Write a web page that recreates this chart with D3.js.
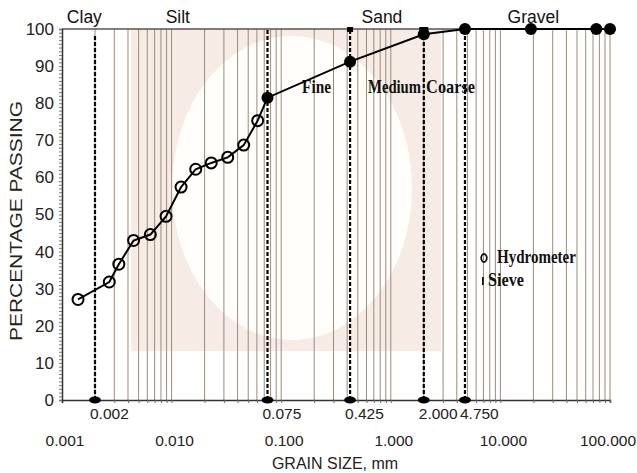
<!DOCTYPE html>
<html>
<head>
<meta charset="utf-8">
<script src="https://cdn.jsdelivr.net/npm/d3@7"></script>
<style>
  body { margin: 0; background: #fff; }
  svg { display: block; }
</style>
</head>
<body>
<div id="chart-container"></div>
<script>
// grain size (mm) and percentage passing
const hydroSize = [0.0014, 0.0027, 0.0033, 0.0045, 0.0064, 0.0089, 0.0122, 0.0166, 0.023, 0.0325, 0.0455, 0.061];
const hydroPass = [27.1, 31.8, 36.6, 43.0, 44.6, 49.5, 57.4, 62.2, 63.9, 65.4, 68.7, 75.3];
const sieveSize = [0.075, 0.425, 2.0, 4.75, 19, 75, 100];
const sievePass = [81.5, 91.2, 98.6, 100, 100, 100, 100];

// class boundaries drawn as dashed lines
const boundarySizes = [0.002, 0.075, 0.425, 2.0, 4.75];
const boundaryLabels = ["0.002", "0.075", "0.425", "2.000", "4.750"];

const decadeTicks = [0.001, 0.01, 0.1, 1, 10, 100];
const decadeLabels = ["0.001", "0.010", "0.100", "1.000", "10.000", "100.000"];

const soilClasses = ["Clay", "Silt", "Sand", "Gravel"];
const soilClassAt = [0.0016, 0.0114, 0.83, 20];
const sandClasses = ["Fine", "Medium", "Coarse"];
const sandClassAt = [0.155, 0.62, 2.1];
const sandClassWidth = [29, 53, 49];

const width = 637;
const height = 473;
const margin = { top: 29, right: 27, bottom: 73, left: 62 };

const x = d3.scaleLog()
    .domain([0.001, 100])
    .range([margin.left, width - margin.right]);

const y = d3.scaleLinear()
    .domain([0, 100])
    .range([height - margin.bottom, margin.top]);

// every 1..9 value of each decade, for the log grid
const minorValues = [];
decadeTicks.slice(0, -1).forEach(d => {
    for (let k = 2; k <= 10; k++) minorValues.push(d * k);
});

const svg = d3.select("#chart-container")
    .append("svg")
    .attr("width", width)
    .attr("height", height)
    .style("font-family", "'Liberation Sans', Arial, sans-serif");

// squeeze a text horizontally so it spans w pixels
function squeeze(sel, w, px, py) {
    sel.each(function(d, i) {
        const natural = this.getComputedTextLength();
        const target = typeof w === "function" ? w(d, i) : w;
        const tx = typeof px === "function" ? px(d, i) : px;
        d3.select(this).attr("transform", `translate(${tx},${py}) scale(${target / natural},1)`);
    });
}

// faded watermark behind the grid
svg.append("rect")
    .attr("x", 131)
    .attr("y", margin.top)
    .attr("width", 310)
    .attr("height", 322)
    .attr("fill", "#f7ebe5");

svg.append("ellipse")
    .attr("cx", 292)
    .attr("cy", 188)
    .attr("rx", 120)
    .attr("ry", 152)
    .attr("fill", "#fffefa");

// vertical log grid
svg.append("g")
    .selectAll("line")
    .data(minorValues)
    .join("line")
    .attr("x1", d => x(d))
    .attr("x2", d => x(d))
    .attr("y1", y(100))
    .attr("y2", y(0))
    .attr("stroke", "#9c8b7b")
    .attr("stroke-width", 1);

// top line
svg.append("line")
    .attr("x1", x(0.001))
    .attr("x2", x(100) + 2)
    .attr("y1", y(100))
    .attr("y2", y(100))
    .attr("stroke", "#555")
    .attr("stroke-width", 1.5);

// x axis: minor ticks
const xAxis = svg.append("g")
    .attr("transform", `translate(0,${y(0)})`)
    .call(d3.axisBottom(x)
        .tickValues(minorValues)
        .tickSize(3)
        .tickFormat(""));
xAxis.select(".domain").attr("stroke", "#333").attr("stroke-width", 1.5);
xAxis.selectAll(".tick line").attr("stroke", "#666");

// x axis decade labels (last one kept inside the frame)
svg.append("g")
    .selectAll("text")
    .data(decadeTicks)
    .join("text")
    .attr("x", (d, i) => i === decadeTicks.length - 1 ? width - 1 : x(d) + 3)
    .attr("y", 446)
    .attr("text-anchor", (d, i) => i === decadeTicks.length - 1 ? "end" : "middle")
    .style("font-size", "15.5px")
    .attr("fill", "#222")
    .text((d, i) => decadeLabels[i]);

// boundary size labels
svg.append("g")
    .selectAll("text")
    .data(boundarySizes)
    .join("text")
    .attr("x", d => x(d) - 5)
    .attr("y", 419)
    .style("font-size", "15.5px")
    .attr("fill", "#222")
    .text((d, i) => boundaryLabels[i]);

svg.append("text")
    .attr("x", 335)
    .attr("y", 469)
    .attr("text-anchor", "middle")
    .style("font-size", "16px")
    .attr("fill", "#222")
    .text("GRAIN SIZE, mm");

// y axis
const yAxis = svg.append("g")
    .attr("transform", `translate(${margin.left},0)`)
    .call(d3.axisLeft(y)
        .tickValues(d3.range(0, 101, 1))
        .tickSize(3)
        .tickPadding(5)
        .tickFormat(d => d % 10 === 0 ? d : ""));
yAxis.select(".domain").attr("stroke", "#333").attr("stroke-width", 1.5);
yAxis.selectAll(".tick line").attr("stroke", "#777");
yAxis.selectAll("text")
    .style("font-size", "17px")
    .attr("fill", "#222");

svg.append("text")
    .attr("transform", `translate(22,221) rotate(-90)`)
    .attr("text-anchor", "middle")
    .attr("textLength", 240)
    .attr("lengthAdjust", "spacingAndGlyphs")
    .style("font-size", "17px")
    .attr("fill", "#222")
    .text("PERCENTAGE PASSING");

// soil class names above the plot
svg.append("g")
    .selectAll("text")
    .data(soilClasses)
    .join("text")
    .attr("x", (d, i) => x(soilClassAt[i]))
    .attr("y", 23)
    .attr("text-anchor", "middle")
    .style("font-size", "17.5px")
    .attr("fill", "#111")
    .text(d => d);

// dashed boundary lines
svg.append("g")
    .selectAll("line")
    .data(boundarySizes)
    .join("line")
    .attr("x1", d => x(d))
    .attr("x2", d => x(d))
    .attr("y1", y(0))
    .attr("y2", (d, i) => i === 0 ? y(98.5) : y(100))
    .attr("stroke", "#000")
    .attr("stroke-width", 2.2)
    .attr("stroke-dasharray", "4,2");

svg.append("g")
    .selectAll("ellipse")
    .data(boundarySizes)
    .join("ellipse")
    .attr("cx", d => x(d))
    .attr("cy", y(0))
    .attr("rx", 6)
    .attr("ry", 3.5)
    .attr("fill", "#000");

svg.append("rect")
    .attr("x", x(0.425) - 3)
    .attr("y", y(100) - 2)
    .attr("width", 6)
    .attr("height", 5)
    .attr("fill", "#000");

svg.append("rect")
    .attr("x", x(2.0) - 4.5)
    .attr("y", y(100) - 2)
    .attr("width", 9)
    .attr("height", 10)
    .attr("fill", "#000");

// sand sub-classes
svg.append("g")
    .selectAll("text")
    .data(sandClasses)
    .join("text")
    .style("font-family", "'Liberation Serif', 'Times New Roman', serif")
    .style("font-weight", "bold")
    .style("font-size", "18px")
    .attr("fill", "#111")
    .text(d => d)
    .call(squeeze, (d, i) => sandClassWidth[i], (d, i) => x(sandClassAt[i]), y(82.8));

// grading curve
const points = hydroSize.map((d, i) => ({ size: d, pass: hydroPass[i], type: "hydro" }))
    .concat(sieveSize.map((d, i) => ({ size: d, pass: sievePass[i], type: "sieve" })));

const line = d3.line()
    .x(d => x(d.size))
    .y(d => y(d.pass));

svg.append("path")
    .datum(points)
    .attr("d", line)
    .attr("fill", "none")
    .attr("stroke", "#000")
    .attr("stroke-width", 2);

svg.append("g")
    .selectAll("circle")
    .data(points)
    .join("circle")
    .attr("cx", d => x(d.size))
    .attr("cy", d => y(d.pass))
    .attr("r", d => d.type === "hydro" ? 5.5 : 6)
    .attr("fill", d => d.type === "hydro" ? "none" : "#000")
    .attr("stroke", "#000")
    .attr("stroke-width", d => d.type === "hydro" ? 2 : 0);

// legend
const legend = svg.append("g")
    .style("font-family", "'Liberation Serif', 'Times New Roman', serif")
    .style("font-weight", "bold")
    .style("font-size", "18px")
    .attr("fill", "#111");

legend.append("ellipse")
    .attr("cx", 484)
    .attr("cy", 258)
    .attr("rx", 2.8)
    .attr("ry", 4)
    .attr("fill", "none")
    .attr("stroke", "#111")
    .attr("stroke-width", 1.8);

legend.append("text")
    .text("Hydrometer")
    .call(squeeze, 79, 497, 263);

legend.append("rect")
    .attr("x", 482)
    .attr("y", 277)
    .attr("width", 1.8)
    .attr("height", 8)
    .attr("fill", "#111");

legend.append("text")
    .text("Sieve")
    .call(squeeze, 36, 488, 286);
</script>
</body>
</html>
